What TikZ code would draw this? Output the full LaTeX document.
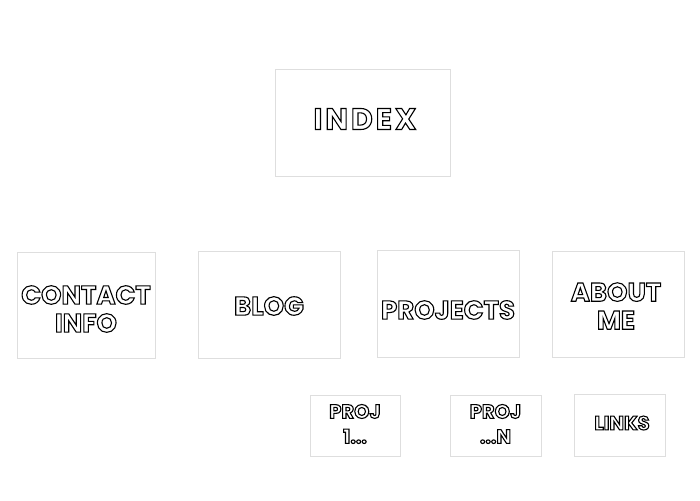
\documentclass[tikz,border=0pt]{standalone}
\usepackage{fontspec}
\newfontfamily\lblfont{Poppins}
\newfontfamily\idxfont{Poppins}[LetterSpace=10]
\newcommand\ot[1]{{\color{white}\special{pdf:literal direct 2 Tr 1.1 w 0 G}#1\special{pdf:literal direct 0 Tr}}}
\tikzset{
  pagebox/.style={draw=black!13, line width=0.7pt, fill=white, inner sep=0pt},
  biglbl/.style={font=\lblfont\bfseries\fontsize{26}{28}\selectfont, align=center},
  smalllbl/.style={font=\lblfont\bfseries\fontsize{19.5}{25}\selectfont, align=center},
}
\begin{document}
\begin{tikzpicture}[x=1pt,y=1pt]
\useasboundingbox (0,0) rectangle (700,500);
% boxes (y flipped: 500 - px)
\node[pagebox, minimum width=175, minimum height=107] (index) at (362.5,377.5) {};
\node[pagebox, minimum width=138, minimum height=106] (contact) at (86,195) {};
\node[pagebox, minimum width=142, minimum height=107] (blog) at (269,195.5) {};
\node[pagebox, minimum width=142, minimum height=107] (projects) at (448,196.5) {};
\node[pagebox, minimum width=132, minimum height=106] (about) at (618,196) {};
\node[pagebox, minimum width=90, minimum height=61] (proj1) at (355,74.5) {};
\node[pagebox, minimum width=91, minimum height=61] (projn) at (495.5,74.5) {};
\node[pagebox, minimum width=91, minimum height=62] (links) at (619.5,75) {};
% labels
\node[biglbl, font=\idxfont\bfseries\fontsize{30}{32}\selectfont] (tindex) at (365,381) {\ot{INDEX}};
\node[biglbl] (tcontact) at (86,191) {\ot{CONTACT}\\\ot{INFO}};
\node[biglbl] (tblog) at (269,194) {\ot{BLOG}};
\node[biglbl] (tprojects) at (448,190) {\ot{PROJECTS}};
\node[biglbl] (tabout) at (616,194) {\ot{ABOUT}\\\ot{ME}};
\node[smalllbl] (tproj1) at (355,76) {\ot{PROJ}\\\ot{1...}};
\node[smalllbl] (tprojn) at (495.5,76) {\ot{PROJ}\\\ot{...N}};
\node[smalllbl] (tlinks) at (622,77) {\ot{LINKS}};
\end{tikzpicture}
\end{document}
